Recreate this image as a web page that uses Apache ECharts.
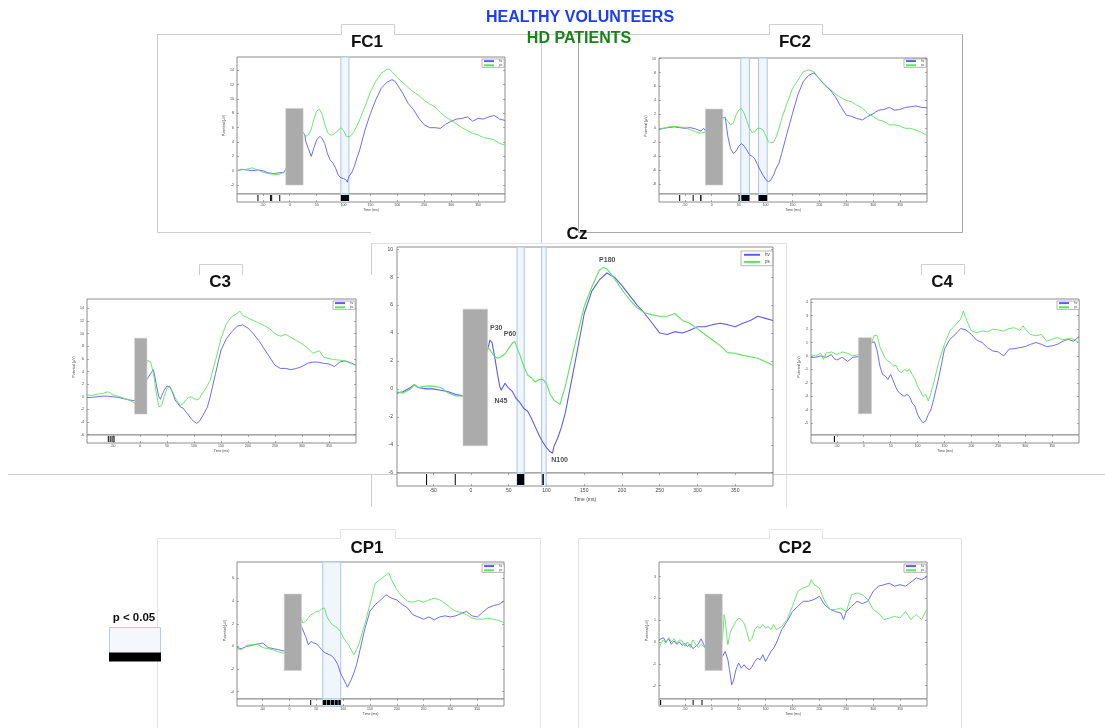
<!DOCTYPE html>
<html><head><meta charset="utf-8">
<script src="https://cdn.jsdelivr.net/npm/echarts@6/dist/echarts.min.js"></script>
<style>html,body{margin:0;padding:0;background:#fff}#c{width:1105px;height:728px}</style>
</head><body><div id="c"></div>
<script>
// ---------------- DATA ----------------
const SERIES_NAMES = ['hv', 'ps'];
const X_TICKS = [-50, 0, 50, 100, 150, 200, 250, 300, 350];
const X_RANGE = [-98, 400];

const FC1_YT = [-2, 0, 2, 4, 6, 8, 10, 12, 14];
const FC2_YT = [-8, -6, -4, -2, 0, 2, 4, 6, 8, 10];
const CZ_YT  = [-6, -4, -2, 0, 2, 4, 6, 8, 10];
const C3_YT  = [-6, -4, -2, 0, 2, 4, 6, 8, 10, 12, 14];
const C4_YT  = [-5, -4, -3, -2, -1, 0, 1, 2, 3, 4];
const CP1_YT = [-4, -2, 0, 2, 4, 6];
const CP2_YT = [-2, -1, 0, 1, 2, 3];

const FC1_HV = [[-98,0],[-90,0.2],[-80,0.1],[-70,0],[-60,0.1],[-50,0],[-40,-0.3],[-30,-0.4],[-20,-0.3],[-10,-0.2],[25,5.3],[28,5.0],[30,4.0],[35,3.0],[40,2.0],[45,3.2],[50,4.3],[56,4.8],[60,4.5],[65,3.8],[70,2.4],[75,1.5],[80,1.1],[85,0.4],[90,-0.6],[95,-1.0],[100,-1.1],[105,-1.3],[107,-1.6],[110,-0.8],[115,-0.3],[120,0.6],[125,1.8],[130,2.9],[140,5.7],[150,8.0],[160,9.9],[170,11.5],[180,12.3],[190,12.7],[195,12.5],[200,12.0],[210,10.8],[220,9.4],[230,8.5],[240,7.3],[250,6.4],[260,6.0],[270,6.0],[280,5.9],[290,6.5],[300,6.9],[310,7.2],[320,7.3],[330,7.5],[340,6.9],[350,7.3],[360,7.2],[370,7.5],[380,7.7],[390,7.2],[400,7.0]];
const FC1_PS = [[-98,0],[-90,0.1],[-80,0.2],[-70,0.4],[-60,0.1],[-50,-0.2],[-40,-0.4],[-30,-0.5],[-20,-0.5],[-10,-0.2],[25,5.3],[30,4.8],[35,5.0],[40,5.8],[45,7.2],[50,8.3],[55,8.6],[60,7.9],[65,6.5],[70,5.4],[75,5.0],[80,5.0],[85,5.3],[90,5.6],[95,6.0],[100,5.6],[105,4.8],[110,4.7],[115,5.0],[120,5.5],[130,7.1],[140,9.0],[150,11.0],[160,12.5],[170,13.6],[180,14.1],[185,14.2],[190,13.8],[200,13.0],[210,12.3],[220,11.6],[230,11.0],[240,10.5],[250,9.8],[260,9.3],[270,8.9],[280,8.1],[290,7.5],[300,7.0],[310,6.5],[320,6.0],[330,5.6],[340,5.2],[350,5.0],[360,4.6],[370,4.5],[380,4.3],[390,3.8],[400,3.6]];

const FC2_HV = [[-98,-0.2],[-90,0],[-80,0.1],[-70,0.2],[-60,0.1],[-50,0],[-40,0.1],[-30,-0.1],[-20,-0.4],[-15,0],[-10,-0.5],[21,1.5],[25,1.6],[30,-1.2],[35,-2.9],[40,-3.6],[45,-3.3],[50,-2.6],[55,-2.2],[60,-2.5],[65,-3.1],[70,-3.8],[75,-4.0],[80,-4.4],[85,-5.2],[90,-6.0],[95,-6.7],[100,-7.3],[105,-7.7],[110,-7.4],[115,-6.7],[120,-5.7],[125,-5.0],[130,-3.6],[140,-0.7],[150,2.1],[160,4.8],[170,6.7],[180,7.6],[190,7.95],[200,7.1],[210,6.2],[220,5.5],[230,4.5],[240,3.1],[250,1.9],[260,1.7],[270,1.4],[280,1.2],[290,1.7],[300,2.1],[310,2.6],[320,2.7],[330,3.0],[340,2.6],[350,2.7],[360,3.0],[370,3.1],[380,3.2],[390,3.0],[400,2.95]];
const FC2_PS = [[-98,-0.1],[-90,0],[-80,0.2],[-70,0.3],[-60,0.2],[-50,0.1],[-40,-0.2],[-30,-0.5],[-20,-0.7],[-10,-0.5],[21,1.5],[25,1.5],[30,1.0],[35,0.5],[40,0.7],[45,1.9],[50,2.6],[55,2.85],[60,2.2],[65,1.1],[70,0],[75,-0.6],[80,-0.5],[85,0],[90,0],[95,-0.2],[100,-1.0],[105,-1.9],[110,-2.1],[115,-2.0],[120,-1.2],[125,0],[130,1.4],[140,3.6],[150,5.7],[160,6.9],[170,8.1],[180,8.4],[190,8.1],[200,7.1],[210,6.3],[220,5.6],[230,4.9],[240,4.4],[250,4.0],[260,3.8],[270,3.3],[280,2.9],[290,2.1],[300,1.7],[310,1.2],[320,1.0],[330,0.5],[340,0.5],[350,0.3],[360,0],[370,0],[380,-0.3],[390,-0.6],[400,-1.0]];

const CZ_HV = [[-98,-0.3],[-90,-0.2],[-80,0.1],[-75,0.3],[-70,0.1],[-60,0],[-50,0],[-40,-0.1],[-30,-0.2],[-20,-0.4],[-10,-0.5],[22,2.8],[25,3.5],[28,3.3],[32,2.1],[35,1.1],[38,0.2],[40,-0.1],[45,0.4],[50,0.05],[55,-0.2],[60,-0.7],[65,-1.0],[70,-1.4],[75,-1.6],[80,-2.1],[85,-2.7],[90,-3.3],[95,-3.8],[100,-4.2],[105,-4.5],[108,-4.6],[110,-4.1],[115,-3.5],[120,-2.7],[125,-1.7],[130,-0.3],[135,1.1],[140,2.5],[150,5.4],[160,7.0],[170,7.8],[180,8.3],[190,8.0],[200,7.4],[210,6.7],[220,6.0],[230,5.4],[240,4.7],[250,4.0],[260,3.9],[270,4.1],[280,4.0],[290,4.2],[300,4.45],[310,4.45],[320,4.6],[330,4.7],[340,4.6],[350,4.45],[360,4.7],[370,4.9],[380,5.2],[390,5.05],[400,4.9]];
const CZ_PS = [[-98,-0.2],[-90,-0.3],[-80,0],[-75,0.3],[-70,0.1],[-60,0.2],[-50,0.2],[-40,0.1],[-30,-0.3],[-20,-0.5],[-10,-0.5],[22,3.0],[25,2.8],[30,2.4],[35,2.2],[40,2.3],[45,2.5],[50,2.9],[55,3.3],[58,3.4],[60,3.1],[65,2.4],[70,1.6],[75,1.0],[80,0.8],[85,0.5],[90,0.65],[95,0.7],[100,0.4],[105,-0.4],[110,-0.8],[115,-1.0],[118,-1.1],[120,-0.7],[125,0.2],[130,1.4],[140,3.7],[150,5.9],[160,7.3],[170,8.5],[175,8.7],[180,8.6],[190,7.9],[200,7.1],[210,6.4],[220,5.8],[230,5.45],[240,5.3],[250,5.2],[260,5.2],[270,5.4],[280,4.9],[290,4.7],[300,4.3],[310,3.9],[320,3.5],[330,3.1],[340,2.6],[350,2.55],[360,2.4],[370,2.3],[380,2.2],[390,1.95],[400,1.7]];

const C3_HV = [[-98,-0.1],[-90,-0.1],[-80,0],[-70,0.1],[-60,0.1],[-50,0],[-40,-0.1],[-30,-0.3],[-20,-0.5],[-10,-0.6],[14,2.9],[20,3.7],[25,4.3],[30,2.1],[35,0],[38,-0.4],[40,0.1],[45,1.05],[50,1.7],[55,1.6],[60,0.8],[65,-0.5],[70,-1.05],[75,-1.6],[80,-1.8],[85,-2.4],[90,-2.9],[95,-3.5],[100,-3.9],[105,-4.2],[108,-4.3],[110,-3.9],[115,-3.2],[120,-2.4],[125,-1.6],[130,0],[140,3.7],[150,7.4],[160,9.2],[170,10.3],[180,11.2],[190,11.4],[200,10.9],[210,10.0],[220,8.9],[230,7.6],[240,6.3],[250,5.0],[260,4.5],[270,4.5],[280,4.3],[290,4.5],[300,4.8],[310,5.3],[320,5.5],[330,5.5],[340,5.3],[350,5.2],[360,4.8],[370,5.5],[380,5.7],[390,5.4],[400,5.0]];
const C3_PS = [[-98,0.3],[-90,0.2],[-80,0.4],[-70,0.5],[-60,0.8],[-55,0.6],[-50,0.3],[-40,0.1],[-30,-0.2],[-20,-0.5],[-10,-1.0],[14,5.8],[17,6.05],[20,5.5],[25,3.7],[30,0.8],[35,-1.6],[38,-1.8],[40,-1.4],[45,0],[50,1.3],[55,1.7],[60,0.95],[65,-0.1],[70,-0.8],[75,-1.4],[80,-1.05],[85,-0.5],[90,-0.1],[95,0],[100,-0.3],[105,-0.5],[110,-0.3],[115,0.5],[120,1.05],[130,2.6],[140,5.8],[150,9.2],[160,11.6],[170,12.7],[180,13.2],[185,13.6],[190,12.9],[200,12.5],[210,12.1],[220,11.7],[230,11.3],[240,10.8],[250,10.0],[260,9.6],[270,9.9],[280,9.4],[290,8.9],[300,8.4],[310,7.8],[320,6.9],[332,7.3],[340,6.3],[350,6.05],[360,5.9],[370,5.8],[380,5.7],[390,5.3],[400,5.0]];

const C4_HV = [[-98,-0.1],[-90,-0.1],[-80,0],[-70,-0.1],[-60,0.1],[-55,-0.2],[-50,-0.3],[-40,-0.1],[-30,-0.4],[-20,-0.1],[-10,-0.05],[15,1.0],[20,1.05],[25,0.37],[30,-0.75],[35,-1.37],[40,-1.5],[45,-1.75],[50,-1.37],[55,-1.86],[60,-2.36],[65,-2.7],[70,-2.86],[75,-3.0],[80,-2.86],[85,-3.0],[90,-3.5],[95,-3.73],[100,-4.35],[105,-4.7],[110,-4.97],[115,-4.85],[120,-4.35],[125,-3.98],[130,-3.23],[140,-1.5],[150,0.5],[160,1.24],[170,1.6],[180,2.04],[190,1.94],[200,1.6],[210,1.17],[220,1.0],[230,0.62],[240,0.37],[250,0.3],[260,0],[270,0.5],[280,0.55],[290,0.62],[300,0.7],[310,0.87],[320,1.0],[330,0.87],[340,0.7],[350,0.75],[360,0.87],[370,1.1],[380,1.24],[390,1.1],[400,1.44]];
const C4_PS = [[-98,0.1],[-90,0],[-80,0.2],[-75,-0.25],[-70,0.2],[-60,0.3],[-50,0.1],[-40,0.3],[-30,0.2],[-20,0],[-10,0.1],[15,1.0],[20,1.55],[25,1.5],[30,0.7],[35,0.25],[40,-0.2],[45,-0.37],[50,-0.5],[55,-0.75],[60,-0.7],[65,-1.12],[70,-1.24],[75,-1.0],[80,-1.12],[85,-1.0],[90,-1.37],[95,-1.7],[100,-2.24],[105,-2.6],[110,-3.0],[115,-2.86],[120,-3.35],[125,-2.73],[130,-2.0],[140,-0.37],[150,0.87],[160,1.86],[170,2.3],[180,2.73],[185,3.35],[190,2.78],[200,1.86],[210,1.74],[220,1.86],[230,1.8],[240,2.0],[250,1.94],[260,1.86],[270,2.04],[280,2.1],[290,1.9],[296,2.25],[300,2.0],[310,1.6],[320,1.5],[330,1.6],[340,1.1],[350,1.24],[360,1.37],[370,1.2],[380,1.3],[390,1.24],[400,1.0]];

const CP1_HV = [[-98,-0.1],[-90,-0.2],[-80,0],[-70,0.1],[-60,0.2],[-50,0.3],[-40,-0.1],[-30,-0.2],[-20,-0.3],[-10,-0.4],[22,1.76],[25,1.9],[30,0.88],[35,0.15],[40,0.44],[45,0.3],[50,0.24],[55,0],[60,-0.3],[65,-0.53],[70,-0.65],[75,-0.74],[80,-0.88],[85,-1.18],[90,-1.6],[95,-2.35],[100,-2.8],[105,-3.3],[108,-3.6],[110,-3.4],[115,-2.94],[120,-2.35],[125,-1.6],[130,-0.6],[140,1.47],[150,3.1],[160,3.7],[170,4.1],[180,4.56],[190,4.26],[200,4.1],[210,3.7],[220,3.4],[230,2.8],[240,2.6],[250,2.4],[260,2.6],[270,2.35],[280,2.6],[290,2.7],[300,2.6],[310,2.7],[320,2.9],[330,3.1],[340,2.7],[350,2.6],[360,3.0],[370,3.4],[380,3.6],[390,3.7],[400,4.0]];
const CP1_PS = [[-98,-0.2],[-90,-0.3],[-80,0.1],[-70,0.15],[-60,0.2],[-50,-0.1],[-40,-0.2],[-30,-0.3],[-20,-0.5],[-10,-0.6],[22,2.4],[25,2.06],[30,2.2],[35,2.5],[40,2.8],[45,2.9],[50,3.1],[55,3.1],[60,3.3],[65,3.4],[70,2.6],[75,2.2],[80,1.9],[85,1.76],[90,1.6],[95,1.3],[100,0.82],[105,0.44],[110,0.15],[115,-0.3],[120,-0.74],[125,-0.3],[130,0.3],[140,1.9],[150,3.7],[160,5.6],[170,5.94],[180,6.3],[185,6.5],[190,5.9],[200,5.0],[210,4.4],[220,4.0],[230,3.9],[240,4.06],[250,3.9],[260,4.1],[270,4.26],[280,4.1],[290,3.8],[300,3.4],[310,3.1],[320,3.0],[330,2.8],[340,2.5],[350,2.4],[360,2.4],[370,2.5],[380,2.4],[390,2.3],[400,2.1]];

const CP2_HV = [[-98,0.1],[-95,0.15],[-90,0.2],[-85,0],[-80,0.15],[-75,-0.1],[-70,0.05],[-65,-0.1],[-60,0],[-55,-0.15],[-50,-0.05],[-45,-0.2],[-40,-0.1],[-35,-0.3],[-30,-0.2],[-25,-0.1],[-20,0.15],[-15,-0.1],[-10,-0.4],[20,-0.66],[25,-0.43],[30,-0.81],[33,-1.27],[37,-1.96],[40,-1.8],[45,-1.27],[50,-0.96],[55,-1.2],[60,-1.04],[65,-1.2],[70,-1.27],[75,-1.12],[80,-0.89],[85,-0.74],[90,-0.81],[95,-0.58],[100,-0.89],[105,-0.66],[110,-0.43],[115,-0.28],[120,-0.05],[125,0.26],[130,0.57],[140,0.95],[150,1.4],[160,1.64],[170,1.87],[180,1.87],[190,1.95],[200,2.1],[210,1.7],[220,1.5],[230,1.4],[240,1.33],[245,1.03],[250,1.4],[260,1.64],[270,1.87],[280,1.76],[290,1.87],[300,2.33],[310,2.56],[320,2.63],[330,2.7],[340,2.56],[350,2.63],[360,2.56],[370,2.74],[380,2.94],[390,2.86],[400,3.0]];
const CP2_PS = [[-98,-0.3],[-95,-0.1],[-90,0.1],[-85,-0.05],[-80,0.2],[-75,0],[-70,0.15],[-65,-0.05],[-60,0.1],[-55,0.05],[-50,-0.2],[-45,0],[-40,-0.25],[-35,0.1],[-30,-0.1],[-25,-0.25],[-20,-0.1],[-15,-0.2],[-10,-0.3],[20,0.1],[23,1.26],[25,1.03],[28,0.26],[30,-0.12],[33,0.26],[35,0.49],[40,0.72],[45,0.95],[50,1.1],[55,1.03],[60,0.87],[65,0.49],[70,0.03],[75,0.18],[80,0.57],[85,0.72],[90,0.64],[95,0.8],[100,0.64],[105,0.72],[110,0.57],[115,0.8],[120,0.57],[125,0.64],[130,0.72],[140,1.03],[150,1.64],[160,2.33],[170,2.48],[180,2.56],[185,2.86],[190,2.63],[200,2.48],[210,1.87],[220,1.49],[230,1.49],[240,1.56],[250,1.4],[260,2.17],[270,2.25],[280,2.17],[290,1.95],[300,1.49],[310,1.33],[320,1.03],[330,1.1],[340,1.18],[350,1.1],[360,1.4],[370,1.03],[380,1.26],[390,1.03],[400,1.53]];

// stimulus artefact boxes: [t0, t1, v0, v1]
const FC1_BOX = [[-7.4, 24.9, -2.0, 8.69]];
const FC2_BOX = [[-11.8, 20.6, -8.14, 2.76]];
const CZ_BOX  = [[-10.6, 22, -4.07, 5.71]];
const C3_BOX  = [[-9.8, 13, -2.73, 9.3]];
const C4_BOX  = [[-10, 14.5, -4.3, 1.36]];
const CP1_BOX = [[-9.9, 22.3, -2.12, 4.62]];
const CP2_BOX = [[-12.5, 19.7, -1.3, 2.2]];

// highlighted windows [t0, t1]
const FC1_WIN = [[95, 110]];
const FC2_WIN = [[54, 70], [87, 103]];
const CZ_WIN  = [[61, 70.5], [93.5, 99.5]];
const C3_WIN  = [];
const C4_WIN  = [];
const CP1_WIN = [[62, 95.5]];
const CP2_WIN = [];

// p < 0.05 samples [t0, t1]
const FC1_SIG = [[-60,-59],[-36.5,-35.5],[-34.5,-33.5],[-19.5,-18.5],[95,110]];
const FC2_SIG = [[-60.5,-59.5],[-35.5,-34.5],[-21.5,-19],[50,51],[55,70],[87,103]];
const CZ_SIG  = [[-59.5,-58.5],[-21.5,-20.5],[61,70.5],[94.5,96.5]];
const C3_SIG  = [[-59.5,-58.5],[-56,-55],[-52.5,-51.5],[-49,-47]];
const C4_SIG  = [[-55.5,-53.5]];
const CP1_SIG = [[38.5,39.5],[62,68],[69,75.5],[76.5,83],[84,90],[91,95.5]];
const CP2_SIG = [[-96,-94],[-35.5,-34.5],[-19,-18]];

// Cz component labels [name, t, v]
const CZ_PEAKS = [['P30',33.5,4.34],['P60',51.7,3.9],['N45',39.7,-0.84],['N100',117.4,-5.07],['P180',180.5,9.26]];

// ---------------- LAYOUT ----------------
const PANELS = [
  {name:'FC1', hv:FC1_HV, ps:FC1_PS, yr:[-3.25,15.86], yt:FC1_YT, box:FC1_BOX, win:FC1_WIN, sig:FC1_SIG, l:237,r:505,t:57,s:194,b:202, leg:[482,59], tp:[367,42.5], big:false},
  {name:'FC2', hv:FC2_HV, ps:FC2_PS, yr:[-9.43,10.09], yt:FC2_YT, box:FC2_BOX, win:FC2_WIN, sig:FC2_SIG, l:659,r:927,t:58,s:194,b:202, leg:[904,59], tp:[795,42.5], big:false},
  {name:'Cz',  hv:CZ_HV,  ps:CZ_PS,  yr:[-6.02,10.16], yt:CZ_YT,  box:CZ_BOX,  win:CZ_WIN,  sig:CZ_SIG,  l:397,r:773,t:247,s:473,b:486, leg:[741,251], tp:[577,234], big:true},
  {name:'C3',  hv:C3_HV,  ps:C3_PS,  yr:[-6.05,15.5], yt:C3_YT,  box:C3_BOX,  win:C3_WIN,  sig:C3_SIG,  l:87,r:356,t:299,s:435,b:443, leg:[333,301], tp:[220,282], big:false},
  {name:'C4',  hv:C4_HV,  ps:C4_PS,  yr:[-5.88,4.24], yt:C4_YT,  box:C4_BOX,  win:C4_WIN,  sig:C4_SIG,  l:811,r:1079,t:299,s:435,b:443, leg:[1057,301], tp:[942,282], big:false},
  {name:'CP1', hv:CP1_HV, ps:CP1_PS, yr:[-4.64,7.45], yt:CP1_YT, box:CP1_BOX, win:CP1_WIN, sig:CP1_SIG, l:237,r:504,t:562,s:699,b:706, leg:[482,564], tp:[367,548], big:false},
  {name:'CP2', hv:CP2_HV, ps:CP2_PS, yr:[-2.61,3.67], yt:CP2_YT, box:CP2_BOX, win:CP2_WIN, sig:CP2_SIG, l:659,r:927,t:562,s:699,b:706, leg:[904,564], tp:[795,548], big:false}
];

const BLUE = '#5d5df3', GREEN = '#5fe25f';
const AXIS_C = '#8c8c8c', LABEL_C = '#444';
const FONT = '"Liberation Sans", Arial, sans-serif';
const NO_LINE = {show:false, onZero:false};

function boxItem(params, api) {
  const p0 = api.coord([api.value(0), api.value(3)]);
  const p1 = api.coord([api.value(1), api.value(2)]);
  return {type:'rect', shape:{x:p0[0], y:p0[1], width:p1[0]-p0[0], height:p1[1]-p0[1]},
          style:{fill:'#ababab', stroke:'#cfcfcf', lineWidth:0.6}};
}
function winItem(params, api) {
  const cs = params.coordSys;
  const x0 = api.coord([api.value(0), 0])[0], x1 = api.coord([api.value(1), 0])[0];
  return {type:'rect', shape:{x:x0, y:cs.y, width:x1-x0, height:cs.height},
          style:{fill:'#f1f6fd', stroke:'#a9c7ec', lineWidth:1}};
}
function sigItem(params, api) {
  const cs = params.coordSys;
  const x0 = api.coord([api.value(0), 0])[0], x1 = api.coord([api.value(1), 0])[0];
  return {type:'rect', shape:{x:x0, y:cs.y+1, width:Math.max(1, x1-x0), height:cs.height-2},
          style:{fill:'#000'}};
}

const grid = [], xAxis = [], yAxis = [], series = [], legend = [];
PANELS.forEach(p => {
  const fs = p.big ? 5 : 3.5;
  const tickStyle = {color:'#777', width:0.6};
  const gM = grid.length;
  grid.push({left:p.l, top:p.t, width:p.r-p.l, height:p.s-p.t, show:true, borderColor:AXIS_C, borderWidth:1, backgroundColor:'#fff'});
  const gS = grid.length;
  grid.push({left:p.l, top:p.s, width:p.r-p.l, height:p.b-p.s, show:true, borderColor:AXIS_C, borderWidth:1, backgroundColor:'#fff'});

  const xM = xAxis.length;
  xAxis.push({gridIndex:gM, type:'value', min:X_RANGE[0], max:X_RANGE[1], show:false, axisLine:NO_LINE});
  const xS = xAxis.length;
  xAxis.push({gridIndex:gS, type:'value', min:X_RANGE[0], max:X_RANGE[1], position:'bottom',
    axisLine:NO_LINE, splitLine:{show:false},
    axisTick:{inside:true, length:2, customValues:X_TICKS, lineStyle:tickStyle},
    axisLabel:{customValues:X_TICKS, fontSize:fs, color:LABEL_C, margin:p.big?2.5:1.5, fontFamily:FONT},
    name:'Time (ms)', nameLocation:'middle', nameGap:p.big?11:6.5, nameTextStyle:{fontSize:fs, color:LABEL_C, fontFamily:FONT}});
  xAxis.push({gridIndex:gS, type:'value', min:X_RANGE[0], max:X_RANGE[1], position:'top',
    axisLine:NO_LINE, splitLine:{show:false}, axisLabel:{show:false},
    axisTick:{inside:true, length:2, customValues:X_TICKS, lineStyle:tickStyle}});

  const yM = yAxis.length;
  const yLeft = {gridIndex:gM, type:'value', min:p.yr[0], max:p.yr[1], position:'left',
    axisLine:NO_LINE, splitLine:{show:false},
    axisTick:{inside:true, length:2, customValues:p.yt, lineStyle:tickStyle},
    axisLabel:{customValues:p.yt, fontSize:fs, color:LABEL_C, margin:p.big?4:3, fontFamily:FONT}};
  if (!p.big) Object.assign(yLeft, {name:'Potential (\u00b5V)', nameLocation:'middle', nameRotate:90, nameGap:8,
    nameTextStyle:{fontSize:3.5, color:LABEL_C, fontFamily:FONT}});
  yAxis.push(yLeft);
  yAxis.push({gridIndex:gM, type:'value', min:p.yr[0], max:p.yr[1], position:'right',
    axisLine:NO_LINE, splitLine:{show:false}, axisLabel:{show:false},
    axisTick:{inside:true, length:2, customValues:p.yt, lineStyle:tickStyle}});
  const yS = yAxis.length;
  yAxis.push({gridIndex:gS, type:'value', min:0, max:1, show:false, axisLine:NO_LINE});

  series.push({type:'custom', name:p.name+'-win', xAxisIndex:xM, yAxisIndex:yM, renderItem:winItem, data:p.win, z:1, silent:true});
  series.push({type:'custom', name:p.name+'-winS', xAxisIndex:xS, yAxisIndex:yS, renderItem:winItem, data:p.win, z:1, silent:true});
  series.push({type:'line', name:'hv', xAxisIndex:xM, yAxisIndex:yM, data:p.hv, symbol:'none', z:2,
    lineStyle:{color:BLUE, width:p.big?1.1:0.9}, itemStyle:{color:BLUE}});
  series.push({type:'line', name:'ps', xAxisIndex:xM, yAxisIndex:yM, data:p.ps, symbol:'none', z:2,
    lineStyle:{color:GREEN, width:p.big?1.1:0.9}, itemStyle:{color:GREEN}});
  series.push({type:'custom', name:p.name+'-box', xAxisIndex:xM, yAxisIndex:yM, renderItem:boxItem, data:p.box, z:3, silent:true});
  series.push({type:'custom', name:p.name+'-sig', xAxisIndex:xS, yAxisIndex:yS, renderItem:sigItem, data:p.sig, z:4, silent:true});
  if (p.big) {
    series.push({type:'scatter', name:'peaks', xAxisIndex:xM, yAxisIndex:yM, symbolSize:1, z:5, silent:true,
      itemStyle:{color:'rgba(0,0,0,0)'},
      label:{show:true, position:'inside', formatter:'{b}', fontSize:7, fontWeight:'bold', color:'#222', fontFamily:FONT},
      data:CZ_PEAKS.map(d => ({name:d[0], value:[d[1], d[2]]}))});
  }

  legend.push({data:SERIES_NAMES, left:p.leg[0], top:p.leg[1], orient:'vertical', selectedMode:false,
    itemWidth:p.big?16:10, itemHeight:p.big?7:4, itemGap:p.big?1.5:1,
    itemStyle:{opacity:0},
    padding:p.big?[1,3,1,2]:[0.5,2,0.5,1], borderColor:'#888', borderWidth:0.6, backgroundColor:'#fff',
    textStyle:{fontSize:p.big?4.5:3, color:'#444', fontFamily:FONT}});
});

// ---------------- DECORATION ----------------
const FRAME = '#cdcdcd';
function pl(points, color, w) {
  return {type:'polyline', shape:{points}, style:{stroke:color || FRAME, lineWidth:w || 1, fill:null}, silent:true, z:-10};
}
function txt(x, y, text, size, color) {
  return {type:'text', x, y, style:{text, font:'bold ' + size + 'px ' + FONT, fill:color, align:'center', verticalAlign:'middle'}, z:10};
}
const elements = [
  pl([[157,34.5],[341.5,34.5],[341.5,24.5],[394.5,24.5],[394.5,34.5],[769.5,34.5],[769.5,24.5],[822.5,24.5],[822.5,34.5],[962.5,34.5]]),
  pl([[157.5,34.5],[157.5,232.5],[371,232.5]]),
  pl([[541.5,34.5],[541.5,243]]),
  pl([[578.5,37],[578.5,232.5],[962.5,232.5],[962.5,34.5]], '#a8a8a8'),
  pl([[371,243.5],[787,243.5]], '#e2e2e2'),
  pl([[371.5,243],[371.5,275]]),
  pl([[371.5,474],[371.5,507]]),
  pl([[786.5,243],[786.5,507]], '#e2e2e2'),
  pl([[199.5,275],[199.5,264.5],[242.5,264.5],[242.5,275]]),
  pl([[921.5,275],[921.5,264.5],[964.5,264.5],[964.5,275]]),
  pl([[8,474.5],[397,474.5]]),
  pl([[773,474.5],[1105,474.5]]),
  pl([[157.5,728],[157.5,538.5],[340.5,538.5],[340.5,529.5],[395.5,529.5],[395.5,538.5],[540.5,538.5],[540.5,728]], '#e3e3e3'),
  pl([[578.5,728],[578.5,538.5],[769.5,538.5],[769.5,529.5],[822.5,529.5],[822.5,538.5],[961.5,538.5],[961.5,728]], '#e3e3e3'),
  txt(580, 18, 'HEALTHY VOLUNTEERS', 16, '#1d3cf8'),
  txt(579, 39, 'HD PATIENTS', 16, '#168416'),
  txt(134, 618, 'p < 0.05', 11.5, '#111'),
  {type:'rect', shape:{x:109.5, y:627.5, width:51, height:33}, style:{fill:'#f4f8fe', stroke:'#b3cbef', lineWidth:1}, z:5},
  {type:'rect', shape:{x:109, y:652.5, width:52, height:9}, style:{fill:'#000'}, z:6}
];
PANELS.forEach(p => elements.push(txt(p.tp[0], p.tp[1], p.name, 17, '#111')));

const chart = echarts.init(document.getElementById('c'), null, {renderer:'canvas'});
chart.setOption({
  animation:false,
  backgroundColor:'#fff',
  grid, xAxis, yAxis, series, legend,
  graphic:{elements}
});
</script></body></html>
